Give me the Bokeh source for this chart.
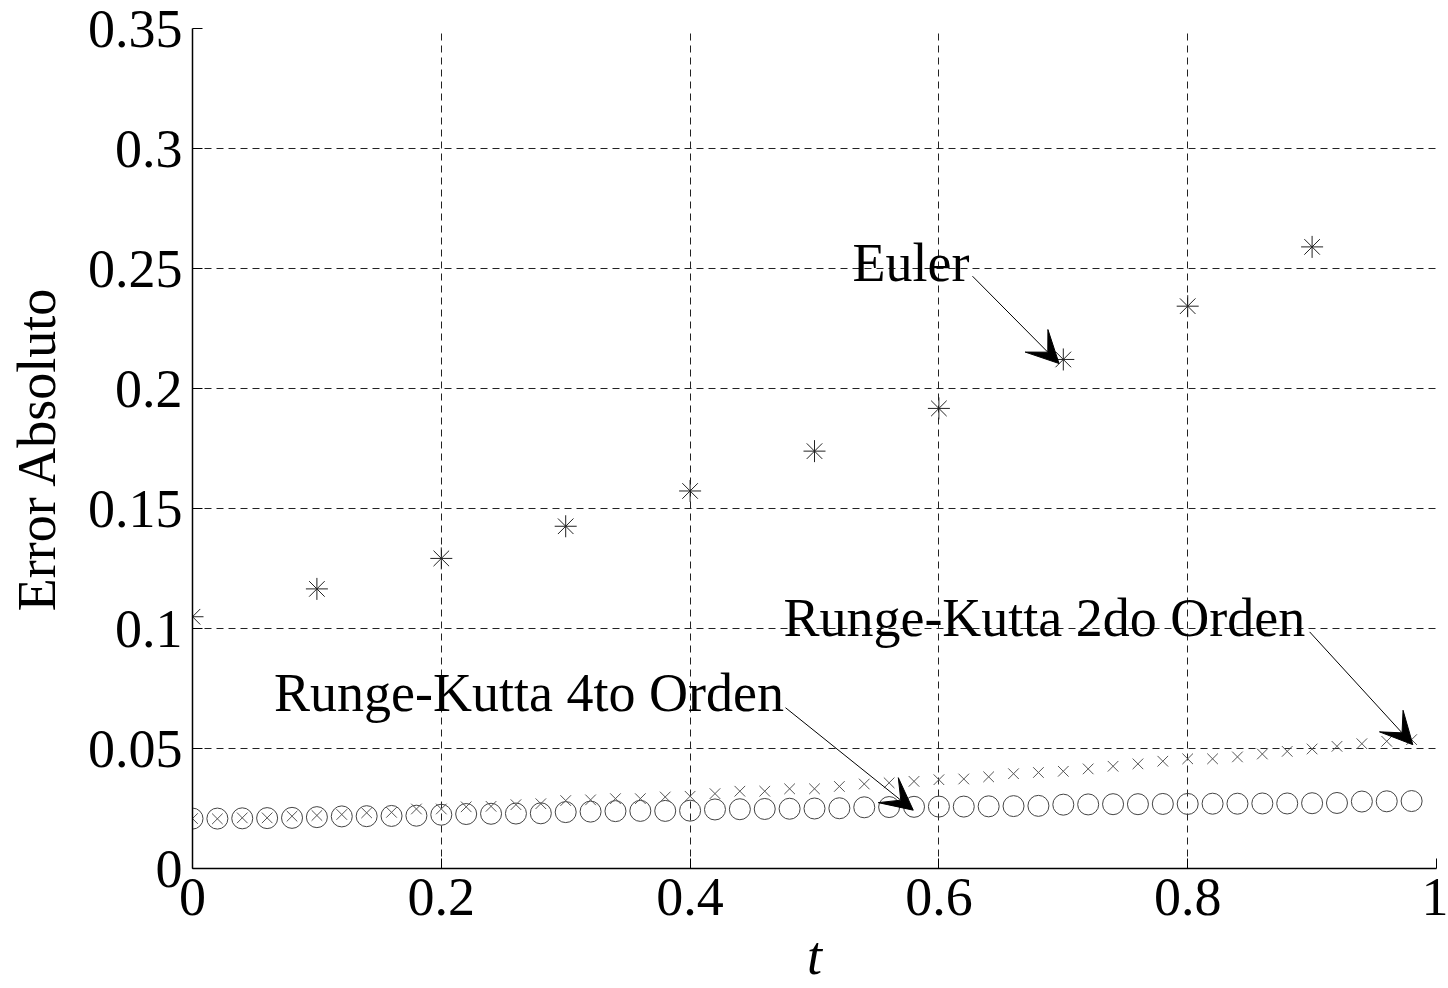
from bokeh.plotting import figure
from bokeh.models import Range1d, FixedTicker, Label, Arrow, VeeHead, ColumnDataSource
from bokeh.embed import file_html
from bokeh.resources import INLINE

# ---- data ----
t_euler = [0.0, 0.1, 0.2, 0.3, 0.4, 0.5, 0.6, 0.7, 0.8, 0.9]
err_euler = [0.1049, 0.1165, 0.1292, 0.1426, 0.1573, 0.1739, 0.1917, 0.2121, 0.2343, 0.2590]

t_rk = [0.00, 0.02, 0.04, 0.06, 0.08, 0.10, 0.12, 0.14, 0.16, 0.18,
        0.20, 0.22, 0.24, 0.26, 0.28, 0.30, 0.32, 0.34, 0.36, 0.38,
        0.40, 0.42, 0.44, 0.46, 0.48, 0.50, 0.52, 0.54, 0.56, 0.58,
        0.60, 0.62, 0.64, 0.66, 0.68, 0.70, 0.72, 0.74, 0.76, 0.78,
        0.80, 0.82, 0.84, 0.86, 0.88, 0.90, 0.92, 0.94, 0.96, 0.98]
err_rk2 = [0.0208, 0.0207, 0.0211, 0.0211, 0.0218, 0.0221, 0.0225, 0.0232, 0.0234, 0.0248,
           0.0248, 0.0257, 0.0259, 0.0266, 0.0270, 0.0283, 0.0286, 0.0291, 0.0291, 0.0298,
           0.0301, 0.0312, 0.0322, 0.0322, 0.0332, 0.0332, 0.0342, 0.0352, 0.0357, 0.0363,
           0.0370, 0.0373, 0.0382, 0.0395, 0.0400, 0.0405, 0.0415, 0.0426, 0.0436, 0.0447,
           0.0457, 0.0457, 0.0465, 0.0477, 0.0488, 0.0498, 0.0509, 0.0520, 0.0530, 0.0537]
err_rk4 = [0.0208, 0.0208, 0.0209, 0.0210, 0.0211, 0.0214, 0.0217, 0.0218, 0.0219, 0.0220,
           0.0224, 0.0227, 0.0228, 0.0229, 0.0230, 0.0235, 0.0237, 0.0239, 0.0240, 0.0240,
           0.0241, 0.0246, 0.0247, 0.0248, 0.0249, 0.0250, 0.0251, 0.0255, 0.0256, 0.0257,
           0.0258, 0.0258, 0.0259, 0.0260, 0.0261, 0.0266, 0.0267, 0.0268, 0.0268, 0.0269,
           0.0269, 0.0270, 0.0270, 0.0271, 0.0271, 0.0272, 0.0273, 0.0279, 0.0280, 0.0281]

x_ticks = [0, 0.2, 0.4, 0.6, 0.8, 1]
x_tick_labels = ["0", "0.2", "0.4", "0.6", "0.8", "1"]
y_ticks = [0, 0.05, 0.1, 0.15, 0.2, 0.25, 0.3, 0.35]
y_tick_labels = ["0", "0.05", "0.1", "0.15", "0.2", "0.25", "0.3", "0.35"]

x_label = "t"
y_label = "Error Absoluto"
ann_texts = ["Euler", "Runge-Kutta 2do Orden", "Runge-Kutta 4to Orden"]

FONT = "Liberation Serif"

p = figure(width=1448, height=988, output_backend="svg", toolbar_location=None,
           x_range=Range1d(0, 1), y_range=Range1d(0, 0.35),
           min_border_left=192, min_border_right=12, min_border_top=28, min_border_bottom=119)
p.outline_line_color = None
p.background_fill_color = "white"
p.border_fill_color = "white"

# axes
for ax, ticks, labels in ((p.xaxis[0], x_ticks, x_tick_labels), (p.yaxis[0], y_ticks, y_tick_labels)):
    ax.ticker = FixedTicker(ticks=ticks)
    ax.major_label_overrides = {tk: lb for tk, lb in zip(ticks, labels)}
    ax.major_label_text_font = FONT
    ax.major_label_text_font_size = "54px"
    ax.major_label_text_color = "black"
    ax.axis_line_color = "black"
    ax.axis_line_width = 1.5
    ax.major_tick_in = 10
    ax.major_tick_out = 0
    ax.major_tick_line_color = "black"
    ax.minor_tick_line_color = None
    ax.axis_label_text_font = FONT
    ax.axis_label_text_font_size = "54px"
    ax.axis_label_text_color = "black"

p.xaxis.major_label_standoff = 10
p.yaxis.major_label_standoff = 10
p.yaxis.axis_label = y_label
p.yaxis.axis_label_text_font_style = "normal"
p.yaxis.axis_label_standoff = 18
p.xaxis.axis_label = x_label
p.xaxis.axis_label_text_font_style = "italic"
p.xaxis.axis_label_standoff = 8

for g in (p.xgrid[0], p.ygrid[0]):
    g.grid_line_color = "#222222"
    g.grid_line_width = 1
    g.grid_line_dash = "7 5"

# markers
src_e = ColumnDataSource(dict(t=t_euler, e=err_euler))
src_rk = ColumnDataSource(dict(t=t_rk, e2=err_rk2, e4=err_rk4))
p.scatter("t", "e4", source=src_rk, marker="circle", size=21, fill_color=None,
          line_color="#444444", line_width=1)
p.scatter("t", "e2", source=src_rk, marker="x", size=15, line_color="#555555", line_width=1)
p.scatter("t", "e", source=src_e, marker="asterisk", size=22, line_color="#222222", line_width=1)

# annotations
label_pos = [(0.5305, 0.2522), (0.475, 0.1044), (0.0656, 0.0732)]
for txt, (lx, ly) in zip(ann_texts, label_pos):
    p.add_layout(Label(x=lx, y=ly, text=txt, text_font=FONT, text_font_size="54px",
                       text_color="black", text_align="left", text_baseline="alphabetic"))

arrows = [((0.627, 0.2468), (0.6966, 0.2104)),
          ((0.898, 0.0986), (0.981, 0.0516)),
          ((0.4767, 0.0670), (0.5794, 0.0243))]
for (x0, y0), (x1, y1) in arrows:
    p.add_layout(Arrow(x_start=x0, y_start=y0, x_end=x1, y_end=y1, line_color="black",
                       line_width=1,
                       end=VeeHead(size=32, fill_color="black", line_color="black")))

open("out.html", "w").write(file_html(p, INLINE))
